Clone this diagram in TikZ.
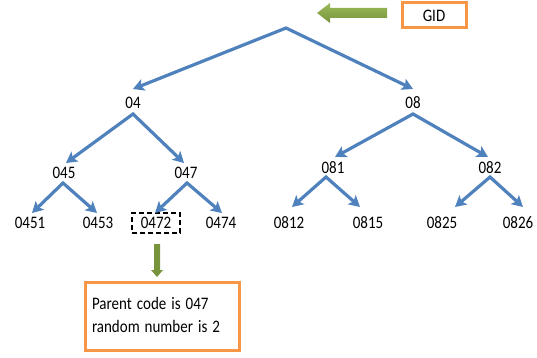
\documentclass[tikz,border=0pt]{standalone}
\usepackage{fontspec}
\setmainfont{Carlito}
\usetikzlibrary{arrows.meta}
\definecolor{tblue}{HTML}{4F81BD}
\definecolor{torange}{HTML}{F79646}
\definecolor{tgreen}{HTML}{77933C}
\definecolor{tgreenlight}{HTML}{9BBB59}
\newcommand{\st}[1]{\scalebox{1}[1.17]{#1}}
\begin{document}
\begin{tikzpicture}[x=1pt,y=-1pt,
  lbl/.style={inner sep=0pt, font=\fontsize{15}{19.7}\selectfont},
  tarrow/.style={draw=tblue, line width=3.2pt, line join=miter,
    {Stealth[length=11pt,width=12pt,inset=2.5pt]}-{Stealth[length=11pt,width=12pt,inset=2.5pt]}},
  obox/.style={draw=torange, line width=3pt, font=\fontsize{15}{19.7}\selectfont}]
\useasboundingbox (0,0) rectangle (537,358);

% labels
\node[lbl] (n04) at (133,103) {\st{04}};
\node[lbl] (n08) at (413,103) {\st{08}};
\node[lbl] (n045) at (64,173) {\st{045}};
\node[lbl] (n047) at (186,173) {\st{047}};
\node[lbl] (n081) at (333,168) {\st{081}};
\node[lbl] (n082) at (490,168) {\st{082}};
\node[lbl] (n0451) at (30,223) {\st{0451}};
\node[lbl] (n0453) at (98,223) {\st{0453}};
\node[lbl, draw=black, line width=2.3pt, dash pattern=on 5pt off 3pt,
  minimum width=48pt, minimum height=20pt] (n0472) at (156,223) {\st{0472}};
\node[lbl] (n0474) at (221,223) {\st{0474}};
\node[lbl] (n0812) at (289,223) {\st{0812}};
\node[lbl] (n0815) at (368,223) {\st{0815}};
\node[lbl] (n0825) at (442,223) {\st{0825}};
\node[lbl] (n0826) at (518,223) {\st{0826}};

% apex and tip coordinates
\coordinate (root) at (286,28);
\coordinate (t04) at (133,89);
\coordinate (t08) at (413,89);
\coordinate (a04) at (133,114);
\coordinate (t045) at (66,163);
\coordinate (t047) at (184,163);
\coordinate (a045) at (63,183);
\coordinate (t0451) at (32,213);
\coordinate (t0453) at (97,213);
\coordinate (a047) at (187,183);
\coordinate (t0472) at (155,213);
\coordinate (t0474) at (222,213);
\coordinate (a08) at (413,114);
\coordinate (t081) at (335,157);
\coordinate (t082) at (488,157);
\coordinate (a081) at (326,177);
\coordinate (t0812) at (292,207);
\coordinate (t0815) at (360,207);
\coordinate (a082) at (490,177);
\coordinate (t0825) at (455,207);
\coordinate (t0826) at (523,207);

\draw[tarrow] (t04) -- (root) -- (t08);
\draw[tarrow] (t045) -- (a04) -- (t047);
\draw[tarrow] (t0451) -- (a045) -- (t0453);
\draw[tarrow] (t0472) -- (a047) -- (t0474);
\draw[tarrow] (t081) -- (a08) -- (t082);
\draw[tarrow] (t0812) -- (a081) -- (t0815);
\draw[tarrow] (t0825) -- (a082) -- (t0826);

% GID box and green arrow
\node[obox, minimum width=64pt, minimum height=25pt] (gid) at (434,15.5) {\st{GID}};
\shade[top color=tgreenlight, bottom color=tgreen]
  (387,8) -- (330,8) -- (330,3) -- (317,13) -- (330,23) -- (330,18) -- (387,18) -- cycle;

% description box and down arrow
\node[obox, minimum width=154pt, minimum height=68pt, text width=140pt,
  inner xsep=7pt, align=left] (desc) at (162,316)
  {\st{\begin{tabular}{@{}l@{}}Parent code is 047\\random number is 2\end{tabular}}};
\fill[tgreen] (154,244) -- (160,244) -- (160,270) -- (163,270) -- (157,277)
  -- (151,270) -- (154,270) -- cycle;
\end{tikzpicture}
\end{document}
